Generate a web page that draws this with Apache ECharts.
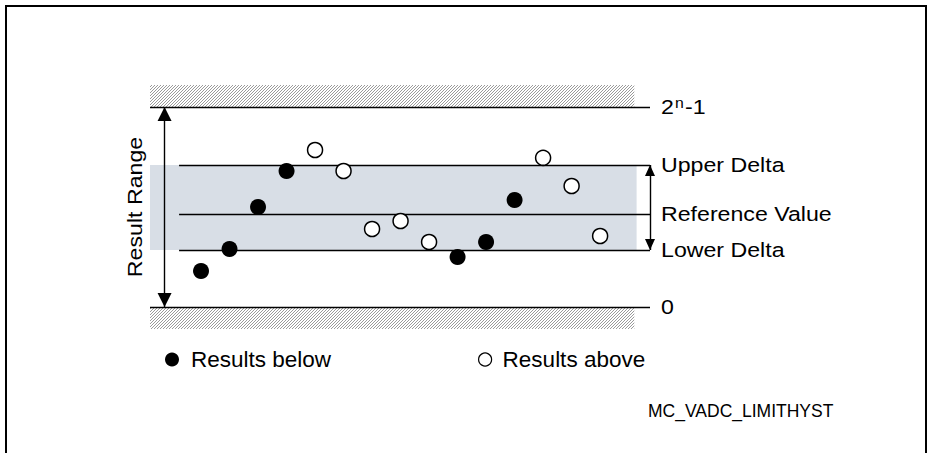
<!DOCTYPE html>
<html><head><meta charset="utf-8">
<script src="https://cdn.jsdelivr.net/npm/echarts@6/dist/echarts.min.js"></script>
<style>html,body{margin:0;padding:0;background:#fff}#c{width:928px;height:453px}</style>
</head><body><div id="c"></div>
<script>
// ---- data ----
const sampleBelow = [1, 2, 3, 4, 10, 11, 12];
const valueBelow  = [18, 29, 50, 68, 25, 32.5, 53.5];
const sampleAbove = [5, 6, 7, 8, 9, 13, 14, 15];
const valueAbove  = [78.5, 68, 39, 43, 32.5, 74.6, 60.5, 35.5];
const levelNames  = ['2{sup|n}-1', 'Upper Delta', 'Reference Value', 'Lower Delta', '0'];
const levelValues = [100, 71, 46.5, 28.5, 0];
const rangeLabel  = 'Result Range';
const legendNames = ['Results below', 'Results above'];
const figureId    = 'MC_VADC_LIMITHYST';

// ---- layout (axis extents in data units) ----
const X_MIN = -0.79, X_MAX = 16.75, Y_MIN = -11, Y_MAX = 111;
const X_DELTA_START = 0.23, X_SHADE_END = 16.28, X_HATCH_END = 16.2, X_ARROW = -0.28;
const FONT = '"Liberation Sans", Arial, sans-serif';
const TXT = 20.5, STRETCH = 1.13;
const UP_HEAD = 'path://M5,0 L10,10 L0,10 Z';
const DOWN_HEAD = 'path://M0,0 L10,0 L5,10 Z';

function hatchCanvas() {
  const c = document.createElement('canvas');
  c.width = 3; c.height = 3;
  const g = c.getContext('2d');
  g.fillStyle = '#ffffff'; g.fillRect(0, 0, 3, 3);
  g.fillStyle = '#9a9a9a';
  g.fillRect(2, 0, 1, 1); g.fillRect(1, 1, 1, 1); g.fillRect(0, 2, 1, 1);
  return c;
}
const hatch = { image: hatchCanvas(), repeat: 'repeat', imageWidth: 3, imageHeight: 3 };

const [vMax, vUp, vRef, vLow, vZero] = levelValues;
const black = '#000';

function head(point, path, size, dir) {
  return {
    type: 'scatter', silent: true, z: 4, data: [point], symbol: path, symbolSize: size,
    symbolKeepAspect: false, symbolOffset: [0, dir > 0 ? '50%' : '-50%'],
    itemStyle: { color: black, opacity: 1 }
  };
}

const chart = echarts.init(document.getElementById('c'), null, { renderer: 'svg' });
chart.setOption({
  animation: false,
  backgroundColor: '#fff',
  grid: { left: 150, width: 500, top: 85, height: 244 },
  xAxis: { type: 'value', min: X_MIN, max: X_MAX, show: false },
  yAxis: { type: 'value', min: Y_MIN, max: Y_MAX, show: false },
  title: {
    text: figureId, left: 648, top: 402, padding: 0,
    textStyle: { fontFamily: FONT, fontSize: 17.5, fontWeight: 'normal', color: black }
  },
  legend: [
    {
      left: 165, top: 348, padding: 0, itemWidth: 14, itemHeight: 14, selectedMode: false,
      data: [{ name: legendNames[0], icon: 'circle', itemStyle: { color: black, borderWidth: 0 } }],
      textStyle: { fontFamily: FONT, fontSize: 22.5, color: black, padding: [0, 0, 0, 7] }
    },
    {
      left: 478, top: 348, padding: 0, itemWidth: 13, itemHeight: 13, selectedMode: false,
      data: [{ name: legendNames[1], icon: 'circle', itemStyle: { color: '#fff', borderColor: black, borderWidth: 1.2 } }],
      textStyle: { fontFamily: FONT, fontSize: 22.5, color: black, padding: [0, 0, 0, 6] }
    }
  ],
  series: [
    {
      type: 'scatter', data: [], silent: true, z: 1,
      markArea: {
        silent: true,
        data: [
          [{ coord: [X_MIN, vLow], itemStyle: { color: '#d8dee6' } }, { coord: [X_SHADE_END, vUp] }],
          [{ coord: [X_MIN, vMax], itemStyle: { color: hatch } }, { coord: [X_HATCH_END, Y_MAX] }],
          [{ coord: [X_MIN, Y_MIN], itemStyle: { color: hatch } }, { coord: [X_HATCH_END, vZero] }]
        ]
      },
      markLine: {
        silent: true, symbol: ['none', 'none'], label: { show: false },
        lineStyle: { color: black, width: 1.4, type: 'solid' },
        data: [
          [{ coord: [X_MIN, vMax] }, { coord: [X_MAX, vMax] }],
          [{ coord: [X_MIN, vZero] }, { coord: [X_MAX, vZero] }],
          [{ coord: [X_DELTA_START, vUp] }, { coord: [X_MAX, vUp] }],
          [{ coord: [X_DELTA_START, vRef] }, { coord: [X_MAX, vRef] }],
          [{ coord: [X_DELTA_START, vLow] }, { coord: [X_MAX, vLow] }],
          [{ coord: [X_ARROW, vZero] }, { coord: [X_ARROW, vMax] }],
          [{ coord: [X_MAX, vLow] }, { coord: [X_MAX, vUp] }]
        ]
      }
    },
    head([X_ARROW, vMax], UP_HEAD, [14, 14], 1),
    head([X_ARROW, vZero], DOWN_HEAD, [14, 14], -1),
    head([X_MAX, vUp], UP_HEAD, [10, 11], 1),
    head([X_MAX, vLow], DOWN_HEAD, [10, 11], -1),
    {
      name: legendNames[0], type: 'scatter', z: 5, symbol: 'circle', symbolSize: 16,
      itemStyle: { color: black, opacity: 1 },
      data: sampleBelow.map((s, i) => [s, valueBelow[i]])
    },
    {
      name: legendNames[1], type: 'scatter', z: 5, symbol: 'circle', symbolSize: 15,
      itemStyle: { color: '#fff', borderColor: black, borderWidth: 1.5, opacity: 1 },
      data: sampleAbove.map((s, i) => [s, valueAbove[i]])
    }
  ]
});

// text labels positioned through the chart's own coordinate conversion
const toPx = (x, y) => chart.convertToPixel({ gridIndex: 0 }, [x, y]);
const labelX = toPx(X_MAX, 0)[0] + 11;
const graphics = levelNames.map((t, i) => ({
  type: 'text', x: labelX, y: toPx(X_MAX, levelValues[i])[1], scaleX: STRETCH, z: 10,
  style: {
    text: t, fontFamily: FONT, fontSize: TXT, fill: black, align: 'left', verticalAlign: 'middle',
    rich: { sup: { fontFamily: FONT, fontSize: 14, fill: black, verticalAlign: 'bottom', padding: [0, 1, 9, 1] } }
  }
}));
const arrowTop = toPx(X_ARROW, vMax), arrowBot = toPx(X_ARROW, vZero);
graphics.push({
  type: 'text', x: arrowTop[0] - 30, y: (arrowTop[1] + arrowBot[1]) / 2, rotation: Math.PI / 2, scaleX: STRETCH, z: 10,
  style: { text: rangeLabel, fontFamily: FONT, fontSize: TXT, fill: black, align: 'center', verticalAlign: 'middle' }
});
graphics.push({
  type: 'rect', z: 10, silent: true,
  shape: { x: 6, y: 6, width: 920, height: 470 },
  style: { fill: 'none', stroke: black, lineWidth: 2 }
});
chart.setOption({ graphic: graphics });
</script>
</body></html>
